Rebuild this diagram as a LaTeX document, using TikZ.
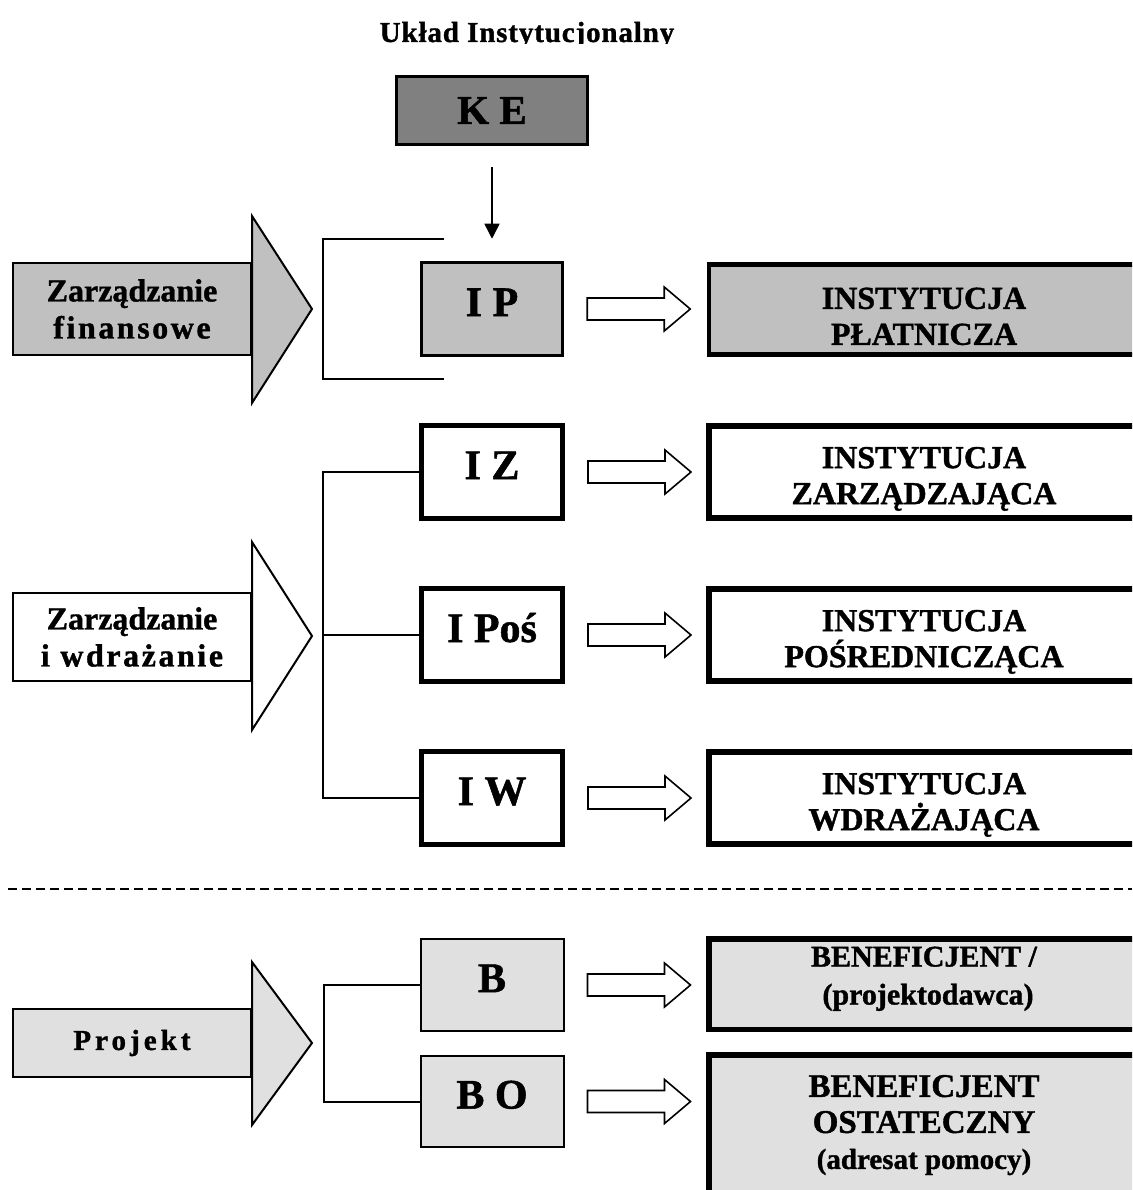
\documentclass[tikz,border=0pt]{standalone}
\usepackage{fontspec}
\setmainfont{Liberation Serif}[BoldFeatures={FakeBold=1.2}]
\usetikzlibrary{arrows.meta,positioning}

\definecolor{keGray}{HTML}{808080}
\definecolor{finGray}{HTML}{C0C0C0}
\definecolor{projGray}{HTML}{E0E0E0}

\newcommand{\spaced}[2]{{\addfontfeature{LetterSpace=#1}#2}}
\newcommand{\lift}[1]{\rule{0pt}{#1pt}}

\begin{document}
\begin{tikzpicture}[x=1pt,y=-1pt,
  headline/.style={font=\bfseries\fontsize{29}{32}\selectfont},
  keybox/.style={draw,line width=3pt,fill=keGray,minimum width=191,minimum height=68,
    font=\bfseries\fontsize{41}{44}\selectfont},
  instbox/.style={draw,line width=5pt,minimum width=141,minimum height=93,
    text height=29pt,text depth=15pt,font=\bfseries\fontsize{42}{46}\selectfont},
  widebox/.style={draw,line width=5.5pt,minimum width=430,minimum height=92,align=center,
    font=\bfseries\fontsize{32}{36}\selectfont},
  flowbody/.style={draw,line width=2pt,minimum width=238,align=center,
    font=\bfseries\fontsize{32}{37}\selectfont},
  flowhead/.style={draw,line width=2pt,line join=miter},
  bracket/.style={line width=2pt},
  blockarrow/.pic={\draw[line width=1.6pt,fill=white] (0,-11) -- (77,-11) -- (77,-22)
    -- (103,0) -- (77,22) -- (77,11) -- (0,11) -- cycle;}
]
\useasboundingbox (0,0) rectangle (1132,1190);
\clip (0,0) rectangle (1132,1190);

% Title (bottom of the letters is cut off)
\begin{scope}
  \clip (300,0) rectangle (760,44);
  \node[headline,anchor=base] (head) at (527,42) {\spaced{3}{Układ Instytucjonalny}};
\end{scope}

% Commission
\node[keybox] (KE) at (492,110.5) {K E};

% Financial management
\node[flowbody,fill=finGray,minimum height=92] (ZF) at (132,309)
  {Zarządzanie\\\spaced{8}{finansowe}};
\draw[flowhead,fill=finGray] (252,216) -- (312,309) -- (252,403) -- cycle;
\draw[bracket] (444,239) -- (323,239) -- (323,379) -- (444,379);
\node[instbox,fill=finGray,line width=3.5pt] (IP) at (492,309) {I P};
\node[widebox,fill=finGray,line width=4.5pt,minimum height=90] (IPfull) at (924,309.5)
  {\lift{35}INSTYTUCJA\\PŁATNICZA};
\draw[line width=1.5pt,-{Triangle[width=15pt,length=15pt]},shorten <=21pt,shorten >=22pt]
  (KE) -- (IP);

% Management and implementation
\node[flowbody,minimum height=88] (ZW) at (132,637)
  {Zarządzanie\\\spaced{8}{i wdrażanie}};
\draw[flowhead,fill=white] (252,542) -- (312,636) -- (252,730) -- cycle;
\node[instbox] (IZ) at (492,472) {I Z};
\node[instbox] (IPos) at (492,635) {I Poś};
\node[instbox] (IW) at (492,798) {I W};
\draw[bracket] (IZ.west) -- ++(-96,0) |- (IW.west);
\draw[bracket] (IPos.west) -- ++(-96,0);
\node[widebox] (IZfull) at (924,472) {\lift{35}INSTYTUCJA\\ZARZĄDZAJĄCA};
\node[widebox] (IPosfull) at (924,635) {\lift{35}INSTYTUCJA\\POŚREDNICZĄCA};
\node[widebox] (IWfull) at (924,798) {\lift{35}INSTYTUCJA\\WDRAŻAJĄCA};

% Separator
\draw[line width=2pt,dash pattern=on 9pt off 5pt] (8,889) -- (1132,889);

% Project
\node[flowbody,fill=projGray,minimum height=68,font=\bfseries\fontsize{29}{32}\selectfont]
  (PR) at (132,1043) {\spaced{14}{Projekt}};
\draw[flowhead,fill=projGray] (252,962) -- (312,1043) -- (252,1125) -- cycle;
\node[instbox,fill=projGray,line width=2pt,minimum width=143,minimum height=92] (B) at (492,985) {B};
\node[instbox,fill=projGray,line width=2pt,minimum width=143,minimum height=91] (BO) at (492,1101.5) {B O};
\draw[bracket] (B.west) -- ++(-96,0) |- (BO.west);
\node[widebox,fill=projGray,minimum height=90.5,font=\bfseries\fontsize{30}{38}\selectfont]
  (Bfull) at (924,984)
  {{\fontsize{30}{38}\selectfont\lift{21}BENEFICJENT /}\\
   {\fontsize{30}{38}\selectfont\hspace*{8pt}(projektodawca)\rule[-18pt]{0pt}{18pt}}};
\node[widebox,fill=projGray,minimum height=140,font=\bfseries\fontsize{33}{36}\selectfont]
  (BOfull) at (924,1125)
  {\lift{22}BENEFICJENT\\OSTATECZNY\\{\fontsize{29}{36}\selectfont (adresat pomocy)}};

% Hollow arrows to the full names
\foreach \n in {IP,IZ,IPos,IW,B,BO}
  \path (\n.east) ++(23,0) pic {blockarrow};
\end{tikzpicture}
\end{document}
